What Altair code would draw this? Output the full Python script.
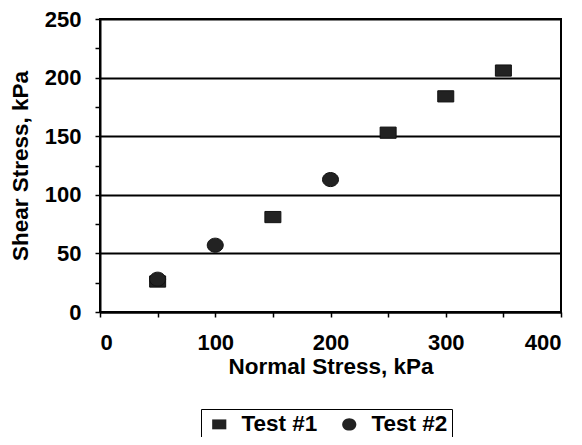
import altair as alt
import pandas as pd

test1_x = [50, 150, 250, 300, 350]
test1_y = [26, 81, 153, 184, 206]
test2_x = [50, 100, 200]
test2_y = [28, 57, 113]

df = pd.DataFrame({
    "x": test1_x + test2_x,
    "y": test1_y + test2_y,
    "series": ["Test #1"] * len(test1_x) + ["Test #2"] * len(test2_x),
})

FONT = "Liberation Sans"
SQUARE = "M-1,-0.7H1V0.7H-1Z"
ELLIPSE = "M-1,0A1,0.88 0 1,0 1,0A1,0.88 0 1,0 -1,0Z"

chart = alt.Chart(df).mark_point(filled=True, opacity=1, stroke="#111", strokeWidth=1).encode(
    x=alt.X("x:Q", title="Normal Stress, kPa",
            scale=alt.Scale(domain=[0, 400], nice=False),
            axis=alt.Axis(values=[0, 50, 100, 150, 200, 250, 300, 350, 400],
                          labelExpr="datum.value % 100 === 0 ? datum.label : ''",
                          grid=False, tickSize=5, labelPadding=15, titlePadding=2)),
    y=alt.Y("y:Q", title="Shear Stress, kPa",
            scale=alt.Scale(domain=[0, 250], nice=False),
            axis=alt.Axis(values=[0, 25, 50, 75, 100, 125, 150, 175, 200, 225, 250],
                          labelExpr="datum.value % 50 === 0 ? datum.label : ''",
                          grid=True,
                          gridOpacity={"condition": {"test": "datum.value % 50 === 0", "value": 1}, "value": 0},
                          tickSize=5, labelPadding=14, titlePadding=12)),
    shape=alt.Shape("series:N",
                    scale=alt.Scale(domain=["Test #1", "Test #2"], range=[SQUARE, ELLIPSE]),
                    legend=alt.Legend(title=None, orient="none", direction="horizontal",
                                      legendX=101, legendY=390,
                                      strokeColor="#000", padding=4,
                                      labelFontSize=22.5, labelFont=FONT, labelFontWeight="bold",
                                      labelColor="#000", symbolOffset=3,
                                      symbolFillColor="#222", symbolStrokeColor="#111",
                                      symbolSize=200, labelOffset=11, columnPadding=17)),
    color=alt.value("#222"),
    size=alt.value(256),
).properties(
    width=461, height=293,
    autosize=alt.AutoSizeParams(type="none"),
    padding={"left": 92, "top": 11, "right": 13, "bottom": 125},
).configure_view(
    stroke="#000", strokeWidth=2
).configure_axis(
    domainColor="#000", domainWidth=2, tickColor="#000", tickWidth=1.5,
    gridColor="#000", gridWidth=2,
    labelFont=FONT, labelFontSize=22, labelColor="#000", labelFontWeight="bold",
    titleFont=FONT, titleFontSize=22.5, titleColor="#000", titleFontWeight="bold",
)

chart.save("out.html", embed_options={"renderer": "svg", "actions": False})
